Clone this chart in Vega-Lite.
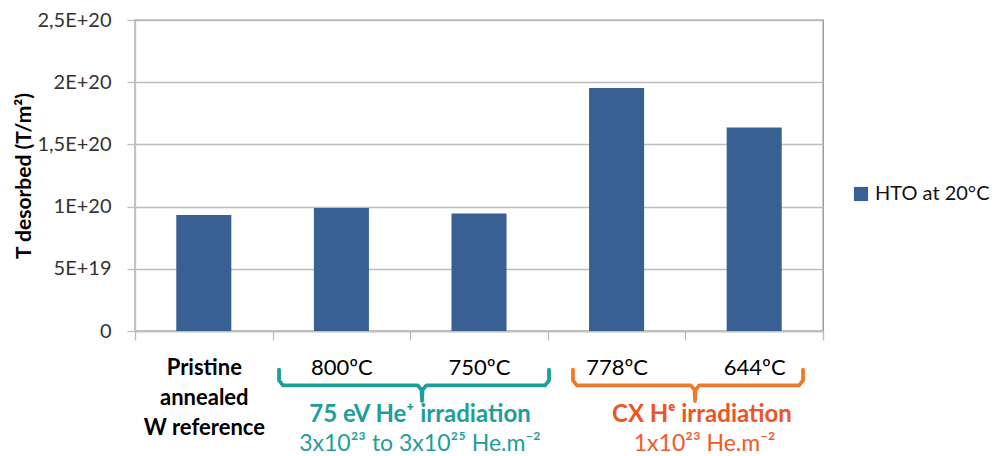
{
  "$schema": "https://vega.github.io/schema/vega-lite/v6.json",
  "width": 688,
  "height": 311,
  "autosize": {"type": "none"},
  "padding": {"left": 135, "top": 20, "right": 177, "bottom": 125},
  "background": "white",
  "config": {
    "font": "Lato, Noto Sans, DejaVu Sans",
    "view": {"stroke": "#8a8a8a", "strokeWidth": 1.3}
  },
  "datasets": {
    "bars": [
      {"cat": "Pristine annealed W reference", "value": 9.32e19, "series": "HTO at 20°C"},
      {"cat": "800ºC", "value": 9.89e19, "series": "HTO at 20°C"},
      {"cat": "750ºC", "value": 9.44e19, "series": "HTO at 20°C"},
      {"cat": "778ºC", "value": 1.953e20, "series": "HTO at 20°C"},
      {"cat": "644ºC", "value": 1.635e20, "series": "HTO at 20°C"}
    ],
    "brackets": [
      {"g": "teal", "i": 0, "px": 1.047, "lvl": 3.1},
      {"g": "teal", "i": 1, "px": 1.047, "lvl": 3.95},
      {"g": "teal", "i": 2, "px": 1.075, "lvl": 4.35},
      {"g": "teal", "i": 3, "px": 2.055, "lvl": 4.35},
      {"g": "teal", "i": 4, "px": 2.082, "lvl": 4.7},
      {"g": "teal", "i": 5, "px": 2.086, "lvl": 5.6},
      {"g": "teal", "i": 6, "px": 2.090, "lvl": 4.7},
      {"g": "teal", "i": 7, "px": 2.117, "lvl": 4.35},
      {"g": "teal", "i": 8, "px": 2.981, "lvl": 4.35},
      {"g": "teal", "i": 9, "px": 3.009, "lvl": 3.95},
      {"g": "teal", "i": 10, "px": 3.009, "lvl": 3.1},
      {"g": "orange", "i": 0, "px": 3.183, "lvl": 3.1},
      {"g": "orange", "i": 1, "px": 3.183, "lvl": 3.95},
      {"g": "orange", "i": 2, "px": 3.211, "lvl": 4.35},
      {"g": "orange", "i": 3, "px": 4.039, "lvl": 4.35},
      {"g": "orange", "i": 4, "px": 4.066, "lvl": 4.7},
      {"g": "orange", "i": 5, "px": 4.070, "lvl": 5.6},
      {"g": "orange", "i": 6, "px": 4.074, "lvl": 4.7},
      {"g": "orange", "i": 7, "px": 4.101, "lvl": 4.35},
      {"g": "orange", "i": 8, "px": 4.827, "lvl": 4.35},
      {"g": "orange", "i": 9, "px": 4.855, "lvl": 3.95},
      {"g": "orange", "i": 10, "px": 4.855, "lvl": 3.1}
    ],
    "notes": [
      {"g": "teal", "w": "bold", "px": 2.071, "lvl": 6.7, "t": "75 eV He⁺ irradiation"},
      {"g": "teal", "w": "normal", "px": 2.071, "lvl": 9.0, "t": "3x10²³ to 3x10²⁵ He.m⁻²"},
      {"g": "orange", "w": "bold", "px": 4.12, "lvl": 6.7, "t": "CX Hᵉ irradiation"},
      {"g": "orange", "w": "normal", "px": 4.14, "lvl": 9.0, "t": "1x10²³ He.m⁻²"}
    ]
  },
  "layer": [
    {
      "data": {"name": "bars"},
      "mark": {"type": "bar", "width": {"band": 0.4}},
      "encoding": {
        "x": {
          "field": "cat",
          "type": "nominal",
          "sort": null,
          "scale": {"paddingInner": 0, "paddingOuter": 0},
          "axis": {
            "title": null,
            "labelAngle": 0,
            "tickBand": "extent",
            "tickSize": 9,
            "tickColor": "#bdbdbd",
            "tickWidth": 1.3,
            "domainColor": "#bdbdbd",
            "domainWidth": 1.3,
            "labelFontSize": 22,
            "labelColor": "#000000",
            "labelPadding": 27,
            "labelLineHeight": 30,
            "labelBaseline": "middle",
            "labelFontWeight": {"condition": {"test": "datum.value == 'Pristine annealed W reference'", "value": "bold"}, "value": "normal"},
            "labelExpr": "datum.value == 'Pristine annealed W reference' ? ['Pristine', 'annealed', 'W reference'] : datum.value"
          }
        },
        "y": {
          "field": "value",
          "type": "quantitative",
          "scale": {"domain": [0, 2.5e20], "nice": false},
          "axis": {
            "title": "T desorbed (T/m²)",
            "titleFontSize": 21,
            "titleFontWeight": "bold",
            "titleColor": "#000000",
            "titlePadding": 2,
            "values": [0, 5e19, 1e20, 1.5e20, 2e20, 2.5e20],
            "labelExpr": "datum.value == 0 ? '0' : replace(replace(format(datum.value, '.2~e'), '.', ','), 'e', 'E')",
            "labelFontSize": 20,
            "labelColor": "#333333",
            "labelPadding": 16,
            "tickSize": 8,
            "tickColor": "#bdbdbd",
            "tickWidth": 1.3,
            "domainColor": "#bdbdbd",
            "domainWidth": 1.3,
            "gridColor": "#bdbdbd",
            "gridWidth": 1.3
          }
        },
        "color": {
          "field": "series",
          "type": "nominal",
          "scale": {"range": ["#386093"]},
          "legend": {
            "title": null,
            "orient": "none",
            "legendX": 716,
            "legendY": 164,
            "symbolType": "square",
            "symbolSize": 200,
            "labelFontSize": 20,
            "labelColor": "#111111",
            "labelOffset": 4,
            "labelLimit": 300
          }
        }
      }
    },
    {
      "layer": [
        {
          "data": {"name": "brackets"},
          "transform": [{"filter": "datum.g == 'teal'"}],
          "mark": {"type": "line", "color": "#1e9e9a", "strokeWidth": 3.8, "strokeJoin": "round", "strokeCap": "round"},
          "encoding": {
            "x": {"field": "px", "type": "quantitative", "scale": {"domain": [0, 5], "nice": false, "zero": false}, "axis": null},
            "y": {"field": "lvl", "type": "quantitative", "scale": {"domain": [0, 10], "range": [311, 436], "nice": false, "zero": false}, "axis": null},
            "order": {"field": "i", "type": "quantitative"}
          }
        },
        {
          "data": {"name": "brackets"},
          "transform": [{"filter": "datum.g == 'orange'"}],
          "mark": {"type": "line", "color": "#f07a2c", "strokeWidth": 3.8, "strokeJoin": "round", "strokeCap": "round"},
          "encoding": {
            "x": {"field": "px", "type": "quantitative", "axis": null},
            "y": {"field": "lvl", "type": "quantitative", "axis": null},
            "order": {"field": "i", "type": "quantitative"}
          }
        },
        {
          "data": {"name": "notes"},
          "transform": [{"filter": "datum.w == 'bold'"}],
          "mark": {"type": "text", "fontSize": 24, "fontWeight": "bold", "align": "center", "baseline": "middle"},
          "encoding": {
            "x": {"field": "px", "type": "quantitative", "axis": null},
            "y": {"field": "lvl", "type": "quantitative", "axis": null},
            "text": {"field": "t"},
            "color": {"condition": {"test": "datum.g == 'teal'", "value": "#1e9e9a"}, "value": "#ee5424"}
          }
        },
        {
          "data": {"name": "notes"},
          "transform": [{"filter": "datum.w == 'normal'"}],
          "mark": {"type": "text", "fontSize": 23, "align": "center", "baseline": "middle"},
          "encoding": {
            "x": {"field": "px", "type": "quantitative", "axis": null},
            "y": {"field": "lvl", "type": "quantitative", "axis": null},
            "text": {"field": "t"},
            "color": {"condition": {"test": "datum.g == 'teal'", "value": "#1e9e9a"}, "value": "#f05a28"}
          }
        }
      ]
    }
  ],
  "resolve": {"scale": {"x": "independent", "y": "independent"}}
}
